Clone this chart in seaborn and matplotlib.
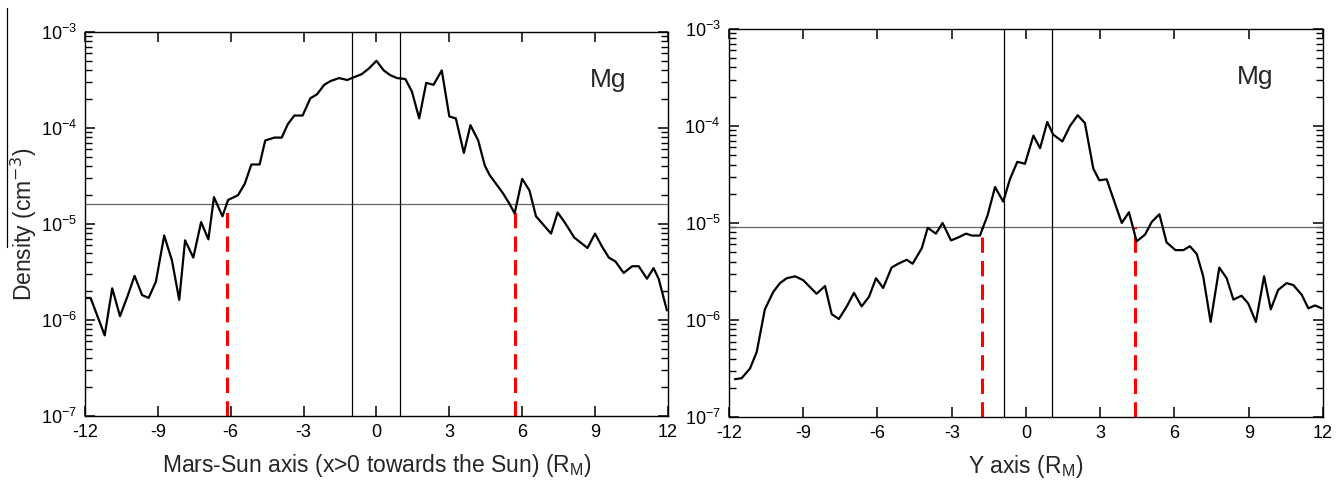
import numpy as np
import pandas as pd
import seaborn as sns
import matplotlib.pyplot as plt
from matplotlib.lines import Line2D
from matplotlib.ticker import NullFormatter, NullLocator

# Mg density along the Mars-Sun axis (left) and the Y axis (right)
x_sun = [-12.0, -11.77, -11.19, -10.88, -10.56, -10.26, -9.96, -9.65, -9.38, -9.08,
         -8.74, -8.42, -8.12, -7.88, -7.54, -7.22, -6.92, -6.69, -6.34, -6.11,
         -5.70, -5.42, -5.15, -4.81, -4.58, -4.20, -3.90, -3.65, -3.38, -3.04,
         -2.72, -2.45, -2.15, -1.88, -1.54, -1.20, -0.92, -0.61, -0.31, 0.0,
         0.30, 0.57, 0.85, 1.19, 1.46, 1.76, 2.05, 2.35, 2.69, 3.00,
         3.27, 3.60, 3.87, 4.19, 4.46, 4.66, 5.21, 5.48, 5.69, 6.00,
         6.30, 6.57, 7.19, 7.46, 7.77, 8.14, 8.69, 9.00, 9.30, 9.57,
         9.84, 10.18, 10.53, 10.80, 11.14, 11.41, 11.62, 11.96]
log_n_sun = [-5.77, -5.77, -6.16, -5.67, -5.96, -5.76, -5.54, -5.74, -5.77, -5.60,
             -5.12, -5.38, -5.79, -5.17, -5.35, -4.98, -5.16, -4.72, -4.92, -4.75,
             -4.70, -4.58, -4.38, -4.38, -4.13, -4.10, -4.10, -3.96, -3.87, -3.87,
             -3.69, -3.65, -3.55, -3.51, -3.48, -3.50, -3.47, -3.44, -3.38, -3.30,
             -3.40, -3.45, -3.48, -3.49, -3.62, -3.90, -3.53, -3.55, -3.40, -3.88,
             -3.90, -4.26, -3.97, -4.13, -4.39, -4.49, -4.68, -4.79, -4.89, -4.53,
             -4.65, -4.92, -5.10, -4.88, -4.99, -5.14, -5.25, -5.10, -5.24, -5.35,
             -5.39, -5.51, -5.44, -5.44, -5.57, -5.46, -5.57, -5.90]

x_y = [-11.76, -11.49, -11.15, -10.88, -10.55, -10.21, -9.94, -9.67, -9.33, -9.00,
       -8.46, -8.12, -7.85, -7.56, -7.24, -6.95, -6.64, -6.34, -6.06, -5.77,
       -5.43, -5.16, -4.82, -4.58, -4.21, -3.97, -3.64, -3.37, -3.03, -2.74,
       -2.42, -2.19, -1.86, -1.55, -1.25, -0.92, -0.65, -0.35, -0.04, 0.30,
       0.57, 0.86, 1.10, 1.47, 1.78, 2.09, 2.38, 2.72, 2.96, 3.26,
       3.57, 3.87, 4.16, 4.47, 4.81, 5.08, 5.39, 5.68, 6.04, 6.36,
       6.62, 6.90, 7.16, 7.46, 7.81, 8.11, 8.38, 8.71, 8.98, 9.29,
       9.62, 9.89, 10.19, 10.53, 10.80, 11.14, 11.41, 11.68, 11.95]
log_n_y = [-6.61, -6.60, -6.50, -6.33, -5.89, -5.71, -5.62, -5.57, -5.55, -5.59,
           -5.73, -5.65, -5.94, -5.99, -5.86, -5.72, -5.86, -5.76, -5.57, -5.67,
           -5.46, -5.42, -5.38, -5.42, -5.26, -5.05, -5.11, -5.00, -5.18, -5.15,
           -5.11, -5.13, -5.13, -4.92, -4.63, -4.78, -4.55, -4.37, -4.39, -4.10,
           -4.23, -3.96, -4.09, -4.16, -4.00, -3.89, -3.97, -4.44, -4.56, -4.55,
           -4.78, -5.00, -4.89, -5.19, -5.12, -4.99, -4.91, -5.20, -5.28, -5.28,
           -5.24, -5.32, -5.55, -6.02, -5.46, -5.57, -5.79, -5.75, -5.83, -6.02,
           -5.55, -5.89, -5.69, -5.62, -5.64, -5.74, -5.88, -5.85, -5.88]

# threshold level, planet limits and crossing points
thresh_sun = 1.6e-5
thresh_y = 9.1e-6
planet_sun = [-1.0, 0.95]
planet_y = [-0.9, 1.05]
cross_sun = [-6.15, 5.69]
cross_y = [-1.78, 4.41]

sns.set_theme(style="ticks")
plt.rcParams['font.family'] = ['Liberation Sans', 'DejaVu Sans']
plt.rcParams['axes.unicode_minus'] = False

fig = plt.figure(figsize=(13.43, 4.87), dpi=100)
ax1 = fig.add_axes([0.0633, 0.1458, 0.434, 0.7885])
ax2 = fig.add_axes([0.5428, 0.1437, 0.4423, 0.797])

decades = 10.0 ** np.arange(-7, -2)
minor = (10.0 ** np.arange(-7, -3))[:, None] * np.arange(2, 10)

panels = [
    (ax1, x_sun, log_n_sun, thresh_sun, planet_sun, cross_sun,
     'Mars-Sun axis (x>0 towards the Sun) (R$_\\mathregular{M}$)', 0.897),
    (ax2, x_y, log_n_y, thresh_y, planet_y, cross_y,
     'Y axis (R$_\\mathregular{M}$)', 0.886),
]

for ax, xs, logn, thr, planet, cross, xlab, mg_x in panels:
    df = pd.DataFrame({'x': xs, 'n': 10.0 ** np.array(logn)})
    ax.set_yscale('log')
    ax.axhline(thr, color='#666666', lw=0.9, zorder=1)
    for xp in planet:
        ax.axvline(xp, color='black', lw=0.9, zorder=1)
    ax.vlines(cross, 1e-7, thr, colors='red', lw=2.2,
              linestyles=(0, (5, 2.7)), zorder=2)
    sns.lineplot(data=df, x='x', y='n', ax=ax, color='black', lw=1.6,
                 estimator=None, sort=False, zorder=3)
    ax.set_xlim(-12, 12)
    ax.set_ylim(1e-7, 1e-3)
    ax.set_xticks(range(-12, 13, 3))
    ax.xaxis.set_minor_locator(NullLocator())
    ax.set_yticks(decades)
    ax.set_yticks(minor.ravel(), minor=True)
    ax.yaxis.set_minor_formatter(NullFormatter())
    ax.tick_params(which='both', direction='in', top=True, right=True, colors='black')
    ax.tick_params(which='major', length=7, width=1.1, pad=6)
    ax.tick_params(which='minor', length=5, width=1.0)
    ax.tick_params(axis='x', labelsize=13)
    ax.tick_params(axis='y', labelsize=13)
    for s in ax.spines.values():
        s.set_color('black')
        s.set_linewidth(1.0)
    ax.set_xlabel(xlab, fontsize=16.5, labelpad=8)
    ax.set_ylabel('')
    ax.text(mg_x, 0.875, 'Mg', transform=ax.transAxes, fontsize=19,
            ha='center', va='center')

ax1.set_ylabel('Density (cm$^{-3}$)', fontsize=16.5, labelpad=1)
fig.add_artist(Line2D([7 / 1343, 7 / 1343], [1 - 8 / 487, 1 - 247 / 487],
                      color='black', lw=0.9))

fig.savefig('out.png', dpi=100)
